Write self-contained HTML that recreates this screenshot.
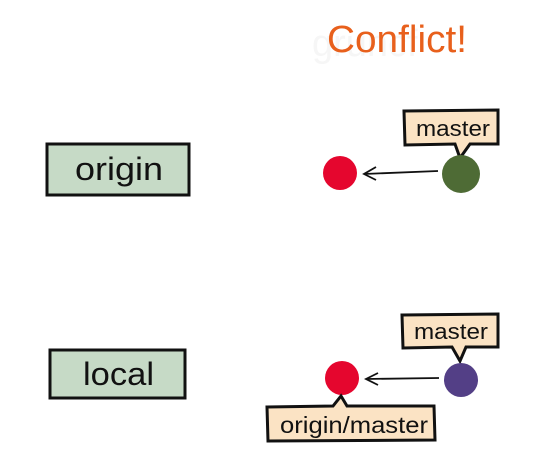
<!DOCTYPE html>
<html><head><style>
body{margin:0;width:535px;height:453px;background:#fff;overflow:hidden;font-family:"Liberation Sans",sans-serif}
</style></head><body>
<svg width="535" height="453" viewBox="0 0 535 453" xmlns="http://www.w3.org/2000/svg">
<text x="312" y="56" font-size="38" fill="#f6f6f6" font-family="Liberation Sans,sans-serif">gruncf</text>
<text x="327" y="52" font-size="38" fill="#e8601c" textLength="140" lengthAdjust="spacingAndGlyphs">Conflict!</text>
<rect x="47" y="144" width="142" height="51" fill="#c6dac6" stroke="#111" stroke-width="3"/>
<text x="75" y="180" font-size="32" fill="#111" textLength="88" lengthAdjust="spacingAndGlyphs">origin</text>
<rect x="50" y="350" width="135" height="48" fill="#c6dac6" stroke="#111" stroke-width="3"/>
<text x="83" y="385" font-size="32" fill="#111" textLength="71" lengthAdjust="spacingAndGlyphs">local</text>
<path d="M404 111 L498 110 L498 144 L470 144 L460 158 L455 144 L405 145 Z" fill="#fbe3c4" stroke="#111" stroke-width="3"/>
<text x="416" y="136" font-size="22" fill="#111" textLength="74" lengthAdjust="spacingAndGlyphs">master</text>
<circle cx="340" cy="173" r="17" fill="#e5062e"/>
<circle cx="461" cy="174" r="19" fill="#4e6b35"/>
<line x1="438" y1="171" x2="364" y2="174" stroke="#111" stroke-width="1.8"/>
<path d="M376 167 L364 174 L376 180" fill="none" stroke="#111" stroke-width="1.8"/>
<path d="M402 315 L498 314 L498 347 L466 347 L460 361 L452 347 L403 348 Z" fill="#fbe3c4" stroke="#111" stroke-width="3"/>
<text x="414" y="339" font-size="22" fill="#111" textLength="74" lengthAdjust="spacingAndGlyphs">master</text>
<circle cx="342" cy="378" r="17" fill="#e5062e"/>
<circle cx="461" cy="380" r="17" fill="#533f86"/>
<line x1="439" y1="378" x2="366" y2="379" stroke="#111" stroke-width="1.8"/>
<path d="M378 373 L366 379 L378 385" fill="none" stroke="#111" stroke-width="1.8"/>
<path d="M267 407 L333 406 L341 396 L347 406 L434 406 L435 440 L268 441 Z" fill="#fbe3c4" stroke="#111" stroke-width="3"/>
<text x="280" y="433" font-size="23" fill="#111" textLength="148" lengthAdjust="spacingAndGlyphs">origin/master</text>
</svg>
</body></html>
